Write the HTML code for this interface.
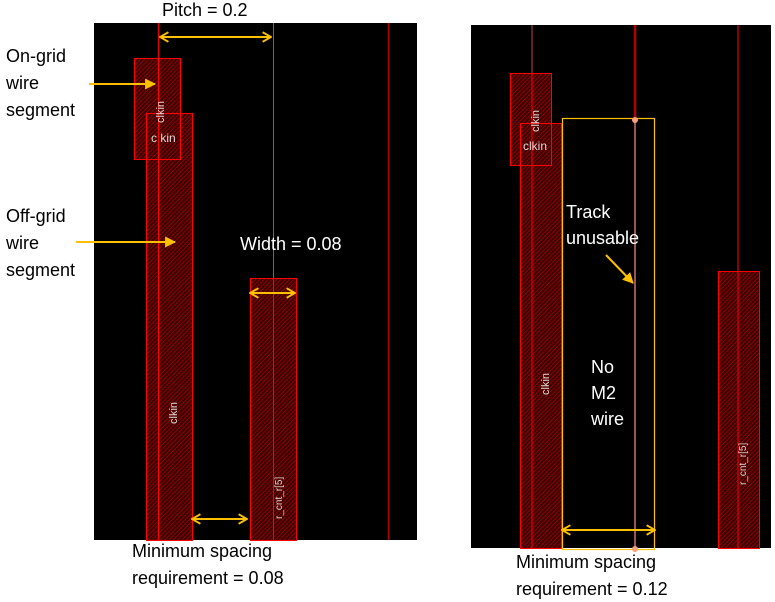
<!DOCTYPE html>
<html><head><meta charset="utf-8"><style>
html,body{margin:0;padding:0;background:#fff;width:775px;height:602px;overflow:hidden}
svg{display:block;font-family:"Liberation Sans",sans-serif}
</style></head><body>
<svg width="775" height="602" viewBox="0 0 775 602">
<defs>
<pattern id="h" width="3" height="3" patternUnits="userSpaceOnUse" patternTransform="rotate(45)">
<rect width="3" height="3" fill="#3a0000"/>
<line x1="0" y1="0" x2="0" y2="3" stroke="#c00000" stroke-width="1.2"/>
</pattern>
<marker id="ah" viewBox="0 0 10 10" refX="9" refY="5" markerWidth="12" markerHeight="12" orient="auto-start-reverse" markerUnits="userSpaceOnUse">
<path d="M2,1 L9,5 L2,9" fill="none" stroke="#ffc000" stroke-width="1.6"/>
</marker>
<marker id="at" viewBox="0 0 10 10" refX="9" refY="5" markerWidth="11" markerHeight="11" orient="auto" markerUnits="userSpaceOnUse">
<path d="M0,0 L10,5 L0,10 Z" fill="#ffc000"/>
</marker>
</defs>

<g>
<rect x="94" y="23" width="323" height="517" fill="#000"/>
<line x1="158.5" y1="23" x2="158.5" y2="540" stroke="#e00000" stroke-width="1.5"/>
<line x1="273.5" y1="23" x2="273.5" y2="540" stroke="#c84040" stroke-width="1"/>
<line x1="388.5" y1="23" x2="388.5" y2="540" stroke="#b00000" stroke-width="1.5"/>
<rect x="134.5" y="58.5" width="46" height="101" fill="url(#h)" stroke="#f00"/>
<rect x="146.5" y="113.5" width="46" height="427" fill="url(#h)" stroke="#f00"/>
<rect x="134.5" y="58.5" width="46" height="101" fill="none" stroke="#f00"/>
<line x1="158.5" y1="58" x2="158.5" y2="540" stroke="#f00" stroke-width="1"/>
<rect x="250.5" y="278.5" width="46" height="262" fill="url(#h)" stroke="#f00"/>
<line x1="273.5" y1="278" x2="273.5" y2="540" stroke="#f00" stroke-width="1"/>
<text x="0" y="0" transform="translate(164,123) rotate(-90)" fill="#ddd" font-size="11">clkin</text>
<text x="151" y="142" fill="#ddd" font-size="12">c kin</text>
<text x="0" y="0" transform="translate(177,424) rotate(-90)" fill="#ddd" font-size="11">clkin</text>
<text x="0" y="0" transform="translate(282,519) rotate(-90)" fill="#ddd" font-size="10">r_cnt_r[5]</text>
<line x1="160" y1="37" x2="271" y2="37" stroke="#ffc000" stroke-width="2" marker-start="url(#ah)" marker-end="url(#ah)"/>
<line x1="250" y1="293" x2="295" y2="293" stroke="#ffc000" stroke-width="2" marker-start="url(#ah)" marker-end="url(#ah)"/>
<line x1="192" y1="519" x2="247" y2="519" stroke="#ffc000" stroke-width="2" marker-start="url(#ah)" marker-end="url(#ah)"/>
<text x="240" y="250" fill="#fff" font-size="18">Width = 0.08</text>
</g>

<text x="162" y="16" fill="#000" font-size="18">Pitch = 0.2</text>
<text x="6" y="62" fill="#000" font-size="18"><tspan x="6">On-grid</tspan><tspan x="6" dy="27">wire</tspan><tspan x="6" dy="27">segment</tspan></text>
<line x1="89" y1="84" x2="155" y2="84" stroke="#ffc000" stroke-width="2" marker-end="url(#at)"/>
<text x="6" y="222" fill="#000" font-size="18"><tspan x="6">Off-grid</tspan><tspan x="6" dy="27">wire</tspan><tspan x="6" dy="27">segment</tspan></text>
<line x1="76" y1="242" x2="175" y2="242" stroke="#ffc000" stroke-width="2" marker-end="url(#at)"/>
<text x="132" y="557" fill="#000" font-size="18"><tspan x="132">Minimum spacing</tspan><tspan x="132" dy="27">requirement = 0.08</tspan></text>

<g>
<rect x="471" y="25" width="300" height="523" fill="#000"/>
<line x1="532" y1="25" x2="532" y2="548" stroke="#c84040" stroke-width="1"/>
<line x1="635" y1="25" x2="635" y2="120" stroke="#b00000" stroke-width="2.5"/>
<line x1="635" y1="120" x2="635" y2="548" stroke="#ff9080" stroke-width="1.2"/>
<line x1="738" y1="25" x2="738" y2="548" stroke="#e00000" stroke-width="1.2"/>
<rect x="510.5" y="73.5" width="41" height="92" fill="url(#h)" stroke="#f00"/>
<rect x="520.5" y="123.5" width="41" height="425" fill="url(#h)" stroke="#f00"/>
<rect x="510.5" y="73.5" width="41" height="92" fill="none" stroke="#f00"/>
<line x1="532" y1="73" x2="532" y2="548" stroke="#f00" stroke-width="1"/>
<rect x="562.5" y="118.5" width="92" height="431" fill="none" stroke="#ffc000" stroke-width="1.2"/>
<rect x="718.5" y="271.5" width="41" height="277" fill="url(#h)" stroke="#f00"/>
<line x1="738" y1="271" x2="738" y2="548" stroke="#f00" stroke-width="1"/>
<circle cx="635" cy="120" r="3" fill="#f4a080"/>
<circle cx="635" cy="549" r="3" fill="#f4a080"/>
<text x="0" y="0" transform="translate(539,132) rotate(-90)" fill="#ddd" font-size="11">clkin</text>
<text x="523" y="150" fill="#ddd" font-size="12">clkin</text>
<text x="0" y="0" transform="translate(549,395) rotate(-90)" fill="#ddd" font-size="11">clkin</text>
<text x="0" y="0" transform="translate(746,485) rotate(-90)" fill="#ddd" font-size="10">r_cnt_r[5]</text>
<text x="566" y="218" fill="#fff" font-size="18"><tspan x="566">Track</tspan><tspan x="566" dy="26">unusable</tspan></text>
<line x1="606" y1="255" x2="633" y2="283" stroke="#ffc000" stroke-width="2" marker-end="url(#at)"/>
<text x="591" y="373" fill="#fff" font-size="18"><tspan x="591">No</tspan><tspan x="591" dy="26">M2</tspan><tspan x="591" dy="26">wire</tspan></text>
<line x1="562" y1="530" x2="655" y2="530" stroke="#ffc000" stroke-width="2" marker-start="url(#ah)" marker-end="url(#ah)"/>
</g>
<text x="516" y="568" fill="#000" font-size="18"><tspan x="516">Minimum spacing</tspan><tspan x="516" dy="27">requirement = 0.12</tspan></text>
</svg>
</body></html>
